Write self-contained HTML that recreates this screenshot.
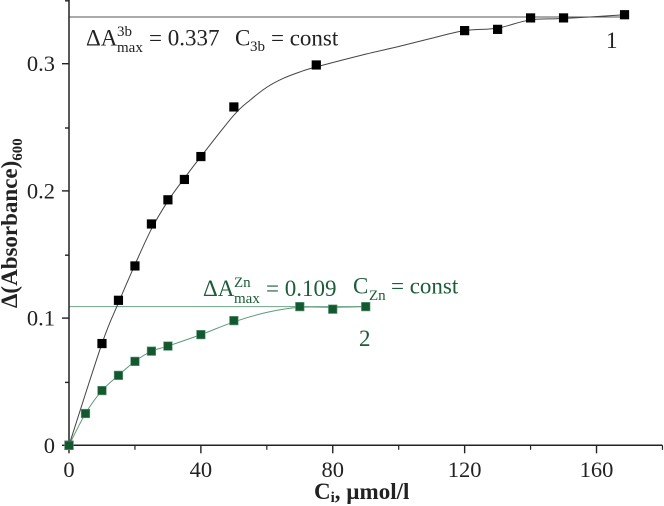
<!DOCTYPE html>
<html>
<head>
<meta charset="utf-8">
<title>Absorbance titration chart</title>
<style>
html,body{margin:0;padding:0;background:#fff;width:664px;height:506px;overflow:hidden}
svg{display:block}
text{font-family:"Liberation Serif",serif;fill:#222}
.tick{font-size:22.5px}
.title{font-weight:bold;font-size:23px}
.g text,.g{fill:#1c5c38}
</style>
</head>
<body>
<svg id="chart" width="664" height="506" viewBox="0 0 664 506" xmlns="http://www.w3.org/2000/svg">
  <g id="plot"></g>

  <text class="title" x="314" y="499">C<tspan font-size="15" dy="3">i</tspan><tspan dy="-3">, µmol/l</tspan></text>
  <text class="title" transform="translate(17,308) rotate(-90)">Δ(Absorbance)<tspan font-size="15" dy="5">600</tspan></text>

  <g>
    <text font-size="23" x="86" y="45.5">ΔA</text>
    <text font-size="15" x="117" y="36">3b</text>
    <text font-size="15" x="117" y="52">max</text>
    <text font-size="23" x="149" y="45.5">= 0.337</text>
    <text font-size="23" x="235" y="45.5">C</text>
    <text font-size="15" x="250" y="51">3b</text>
    <text font-size="23" x="271" y="45.5">= const</text>
    <text font-size="23" x="606" y="48">1</text>
  </g>
  <g class="g">
    <text font-size="23" x="203" y="296">ΔA</text>
    <text font-size="15" x="234" y="287">Zn</text>
    <text font-size="15" x="234" y="303">max</text>
    <text font-size="23" x="266" y="296">= 0.109</text>
    <text font-size="23" x="353" y="293.5">C</text>
    <text font-size="15" x="369" y="300">Zn</text>
    <text font-size="23" x="391" y="293.5">= const</text>
    <text font-size="23" x="359" y="346">2</text>
  </g>
</svg>
<script>
const xMajorTicks = [0, 40, 80, 120, 160];
const xMinorTicks = [20, 60, 100, 140, 180];
const yMajorTicks = [0, 0.1, 0.2, 0.3];
const yMinorTicks = [0.05, 0.15, 0.25, 0.35];
const yTickLabels = ["0", "0.1", "0.2", "0.3"];

const series1X = [0, 10, 15, 20, 25, 30, 35, 40, 50, 75, 120, 130, 140, 150, 168.5];
const series1Y = [0, 0.08, 0.114, 0.141, 0.174, 0.193, 0.209, 0.227, 0.266, 0.299, 0.326, 0.327, 0.336, 0.336, 0.3385];
const fit1X = [0, 10, 15, 20, 25, 30, 35, 40, 50, 55, 60, 65, 70, 75, 90, 100, 110, 120, 130, 140, 150, 168.5];
const fit1Y = [0, 0.08, 0.112, 0.142, 0.17, 0.192, 0.21, 0.227, 0.2595, 0.2715, 0.2815, 0.2885, 0.2935, 0.2975, 0.3075, 0.3135, 0.32, 0.326, 0.328, 0.3345, 0.3355, 0.3385];

const series2X = [0, 5, 10, 15, 20, 25, 30, 40, 50, 70, 80, 90];
const series2Y = [0, 0.025, 0.043, 0.055, 0.066, 0.074, 0.078, 0.087, 0.098, 0.109, 0.107, 0.109];
const fit2X = [0, 5, 10, 15, 20, 25, 30, 40, 50, 60, 70, 80, 90];
const fit2Y = [0, 0.025, 0.043, 0.055, 0.066, 0.074, 0.078, 0.087, 0.097, 0.1045, 0.1085, 0.1085, 0.109];

const maxLine1 = 0.3367;
const maxLine2 = 0.109;
const maxLine1End = 168.5;
const maxLine2End = 90;

const NS = 'http://www.w3.org/2000/svg';
const plot = document.getElementById('plot');

function sx(v) { return 69 + v * 3.297; }
function sy(v) { return 445.3 - v * 1272; }

function make(tag, attrs, parent) {
  const el = document.createElementNS(NS, tag);
  for (const k in attrs) el.setAttribute(k, attrs[k]);
  (parent || plot).appendChild(el);
  return el;
}

function smoothPath(xs, ys) {
  const p = xs.map((x, i) => [sx(x), sy(ys[i])]);
  let d = 'M' + p[0][0] + ' ' + p[0][1];
  for (let i = 0; i < p.length - 1; i++) {
    const a = p[Math.max(i - 1, 0)], b = p[i], c = p[i + 1], e = p[Math.min(i + 2, p.length - 1)];
    const c1x = b[0] + (c[0] - a[0]) / 6, c1y = b[1] + (c[1] - a[1]) / 6;
    const c2x = c[0] - (e[0] - b[0]) / 6, c2y = c[1] - (e[1] - b[1]) / 6;
    d += 'C' + c1x + ' ' + c1y + ' ' + c2x + ' ' + c2y + ' ' + c[0] + ' ' + c[1];
  }
  return d;
}

function drawMax(value, end, color, name) {
  const l = make('line', { x1: sx(0), x2: sx(end), y1: sy(value), y2: sy(value), stroke: color, 'stroke-width': 1 });
  
  
}

function drawFit(xs, ys, color, name) {
  const l = make('path', { d: smoothPath(xs, ys), fill: 'none', stroke: color, 'stroke-width': 1 });
  
  
}

function drawPoints(xs, ys, fill, edge, name) {
  xs.forEach((x, i) => {
    const r = make('rect', { x: sx(x) - 4.3, y: sy(ys[i]) - 4.3, width: 8.6, height: 8.6, fill: fill, stroke: edge, 'stroke-width': 0.6 });
    
    
  });
}

drawMax(maxLine1, maxLine1End, '#555', 'max-line-series-1');
drawMax(maxLine2, maxLine2End, '#6fa387', 'max-line-series-2');
drawFit(fit1X, fit1Y, '#444', 'fit-curve-series-1');
drawFit(fit2X, fit2Y, '#5f9a7a', 'fit-curve-series-2');

const xAxis = make('line', { x1: sx(0) - 1, x2: sx(180), y1: sy(0), y2: sy(0), stroke: '#222', 'stroke-width': 1.5 });


const yAxis = make('line', { x1: sx(0), x2: sx(0), y1: 0, y2: sy(0), stroke: '#222', 'stroke-width': 1.5 });



xMajorTicks.forEach(v => {
  const t = make('line', { x1: sx(v), x2: sx(v), y1: sy(0), y2: sy(0) + 8, stroke: '#222', 'stroke-width': 1.4 });
  
  
  const lab = make('text', { x: sx(v), y: 477, 'text-anchor': 'middle', class: 'tick' });
  
  
  lab.textContent = String(v);
});
xMinorTicks.forEach(v => {
  const t = make('line', { x1: sx(v), x2: sx(v), y1: sy(0), y2: sy(0) + 4.5, stroke: '#222', 'stroke-width': 1.2 });
  
  
});
yMajorTicks.forEach((v, i) => {
  const t = make('line', { x1: sx(0) - 7, x2: sx(0), y1: sy(v), y2: sy(v), stroke: '#222', 'stroke-width': 1.4 });
  
  
  const lab = make('text', { x: 55, y: sy(v) + 7.5, 'text-anchor': 'end', class: 'tick' });
  
  
  lab.textContent = yTickLabels[i];
});
yMinorTicks.forEach(v => {
  const t = make('line', { x1: sx(0) - 4, x2: sx(0), y1: sy(v) + 0.7, y2: sy(v) + 0.7, stroke: '#222', 'stroke-width': 1.4 });
  
  
});

drawPoints(series1X, series1Y, '#000', '#000', 'point-series-1');
drawPoints(series2X, series2Y, '#14582f', '#5f9a7a', 'point-series-2');
</script>
</body>
</html>
